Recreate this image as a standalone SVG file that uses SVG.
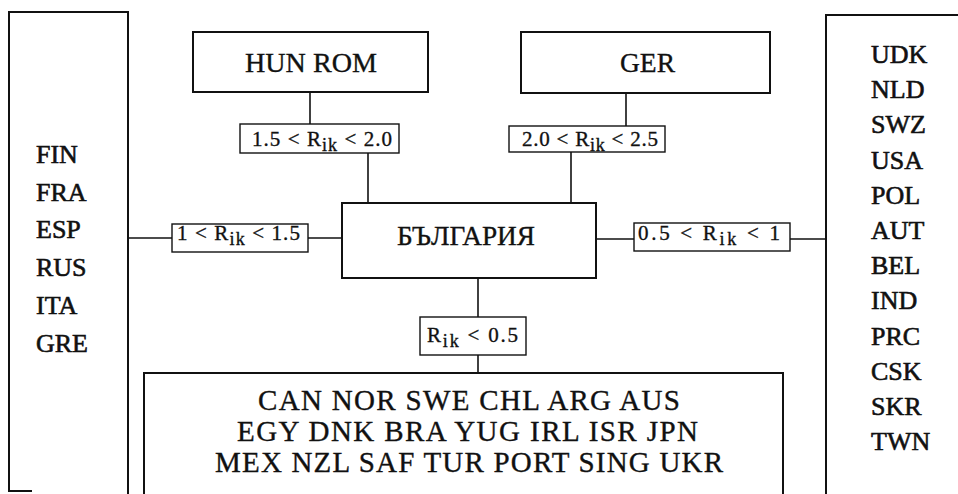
<svg xmlns="http://www.w3.org/2000/svg" width="958" height="494" viewBox="0 0 958 494">
<style>
  text { font-family: "Liberation Serif", "Times New Roman", serif; fill: #111; stroke: #111; stroke-width: 0.35; }
  .box { fill: none; stroke: #111; stroke-width: 2; }
  .lab { fill: #fff; stroke: #111; stroke-width: 1.4; }
  .con { stroke: #111; stroke-width: 1.6; fill: none; }
  .title { font-size: 28px; }
  .list { font-size: 26px; stroke-width: 0.6; }
  .row { font-size: 29px; }
  .rl { font-size: 21px; }
  .sub { font-size: 18px; }
</style>
<rect width="958" height="494" fill="#fff"/>
<g id="connectors">
  <line class="con" x1="310" y1="92" x2="310" y2="124"/>
  <line class="con" x1="368" y1="153" x2="368" y2="203"/>
  <line class="con" x1="626" y1="93" x2="626" y2="126"/>
  <line class="con" x1="571" y1="152" x2="571" y2="203"/>
  <line class="con" x1="128" y1="238" x2="172" y2="238"/>
  <line class="con" x1="308" y1="238" x2="342" y2="238"/>
  <line class="con" x1="596" y1="239" x2="634" y2="239"/>
  <line class="con" x1="790" y1="239" x2="826" y2="239"/>
  <line class="con" x1="478" y1="278" x2="478" y2="317"/>
  <line class="con" x1="478" y1="355" x2="478" y2="373"/>
</g>
<g id="left-group">
  <path class="box" d="M 32 491 H 9 V 12 H 128 V 494"/>
  <text class="list" x="36" y="163">FIN</text>
  <text class="list" x="36" y="201">FRA</text>
  <text class="list" x="36" y="238">ESP</text>
  <text class="list" x="36" y="276">RUS</text>
  <text class="list" x="36" y="314">ITA</text>
  <text class="list" x="36" y="352">GRE</text>
</g>
<g id="hun-rom">
  <rect class="box" x="193" y="32" width="235" height="60"/>
  <text class="title" x="245" y="72" textLength="132" lengthAdjust="spacingAndGlyphs">HUN ROM</text>
</g>
<g id="ger">
  <rect class="box" x="521" y="32" width="249" height="61"/>
  <text class="title" x="620" y="72" textLength="55" lengthAdjust="spacingAndGlyphs">GER</text>
</g>
<g id="bulgaria">
  <rect class="box" x="342" y="203" width="254" height="75"/>
  <text class="title" x="397" y="245" textLength="138" lengthAdjust="spacingAndGlyphs">БЪЛГАРИЯ</text>
</g>
<g id="right-group">
  <path class="box" d="M 958 15 H 826 V 494"/>
  <text class="list" x="871" y="63">UDK</text>
  <text class="list" x="871" y="98">NLD</text>
  <text class="list" x="871" y="133">SWZ</text>
  <text class="list" x="871" y="169">USA</text>
  <text class="list" x="871" y="204">POL</text>
  <text class="list" x="871" y="239">AUT</text>
  <text class="list" x="871" y="274">BEL</text>
  <text class="list" x="871" y="309">IND</text>
  <text class="list" x="871" y="345">PRC</text>
  <text class="list" x="871" y="380">CSK</text>
  <text class="list" x="871" y="415">SKR</text>
  <text class="list" x="871" y="450">TWN</text>
</g>
<g id="bottom-group">
  <path class="box" d="M 144 494 V 373 H 783 V 494"/>
  <text class="row" x="258" y="410" textLength="422" lengthAdjust="spacing">CAN NOR SWE CHL ARG AUS</text>
  <text class="row" x="237" y="441" textLength="461" lengthAdjust="spacing">EGY DNK BRA YUG IRL ISR JPN</text>
  <text class="row" x="215" y="472" textLength="508" lengthAdjust="spacing">MEX NZL SAF TUR PORT SING UKR</text>
</g>
<g id="label-1">
  <rect class="lab" x="240" y="124" width="159" height="29"/>
  <text class="rl" x="252" y="146" textLength="140" lengthAdjust="spacing">1.5 &lt; R<tspan class="sub" dy="5">ik</tspan><tspan dy="-5"> &lt; 2.0</tspan></text>
</g>
<g id="label-2">
  <rect class="lab" x="509" y="126" width="156" height="26"/>
  <text class="rl" x="522" y="146" textLength="136" lengthAdjust="spacing">2.0 &lt; R<tspan class="sub" dy="5">ik</tspan><tspan dy="-5"> &lt; 2.5</tspan></text>
</g>
<g id="label-3">
  <rect class="lab" x="172" y="224" width="136" height="28"/>
  <text class="rl" x="177" y="240" textLength="123" lengthAdjust="spacing">1 &lt; R<tspan class="sub" dy="5">ik</tspan><tspan dy="-5"> &lt; 1.5</tspan></text>
</g>
<g id="label-4">
  <rect class="lab" x="634" y="223" width="156" height="28"/>
  <text class="rl" x="638" y="240" textLength="142" lengthAdjust="spacing">0.5 &lt; R<tspan class="sub" dy="5">ik</tspan><tspan dy="-5"> &lt; 1</tspan></text>
</g>
<g id="label-5">
  <rect class="lab" x="420" y="317" width="106" height="38"/>
  <text class="rl" x="427" y="342" textLength="91" lengthAdjust="spacing">R<tspan class="sub" dy="5">ik</tspan><tspan dy="-5"> &lt; 0.5</tspan></text>
</g>
</svg>
